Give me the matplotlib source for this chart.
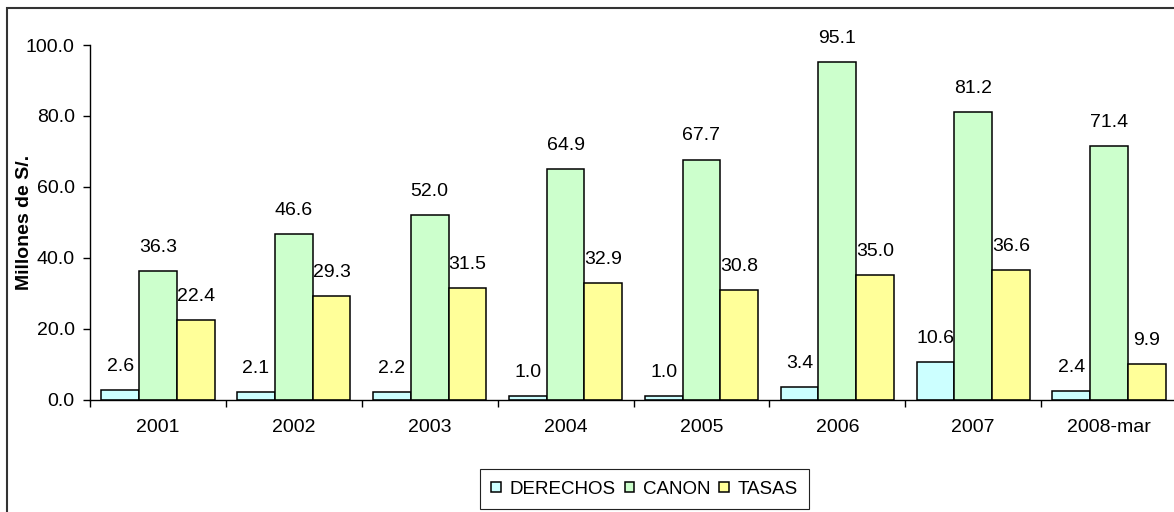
import numpy as np
import matplotlib
matplotlib.use("Agg")
import matplotlib.pyplot as plt
from matplotlib.patches import Rectangle
from matplotlib.ticker import FormatStrFormatter

# ───────────────────────────────
# Data (millones de S/.)
# ───────────────────────────────
years = ["2001", "2002", "2003", "2004", "2005", "2006", "2007", "2008-mar"]
derechos = [2.6, 2.1, 2.2, 1.0, 1.0, 3.4, 10.6, 2.4]
canon = [36.3, 46.6, 52.0, 64.9, 67.7, 95.1, 81.2, 71.4]
tasas = [22.4, 29.3, 31.5, 32.9, 30.8, 35.0, 36.6, 9.9]

series = [
    ("DERECHOS", derechos, "#CCFFFF"),
    ("CANON", canon, "#CCFFCC"),
    ("TASAS", tasas, "#FFFF99"),
]

plt.rcParams["font.family"] = ["Liberation Sans", "DejaVu Sans"]
plt.rcParams["font.size"] = 14

W, H = 1174, 512
fig = plt.figure(figsize=(W / 100, H / 100), dpi=100)

# plot area in pixel terms, converted to figure fractions
left, right, top, bottom = 90, 1177, 45, 399.5
ax = fig.add_axes([left / W, 1 - bottom / H, (right - left) / W, (bottom - top) / H])

x = np.arange(len(years))
width = 0.278
for i, (name, vals, color) in enumerate(series):
    pos = x + (i - 1) * width
    bars = ax.bar(pos, vals, width, color=color, edgecolor="black",
                  linewidth=1.1, label=name, zorder=2)
    for b, v in zip(bars, vals):
        ax.annotate(f"{v:.1f}", (b.get_x() + b.get_width() / 2, v),
                    xytext=(0, 17), textcoords="offset points",
                    ha="center", va="center", fontsize=14,
                    annotation_clip=False)

ax.set_xlim(-0.5, len(years) - 0.5)
ax.set_ylim(0, 100)
ax.set_yticks(np.arange(0, 101, 20))
ax.yaxis.set_major_formatter(FormatStrFormatter("%.1f"))
ax.set_ylabel("Millones de S/.", fontweight="bold", fontsize=14)
ax.yaxis.set_label_coords((33 - left) / (right - left), 0.5)

# category labels at centres, tick marks on the group boundaries
ax.set_xticks(x)
ax.set_xticklabels(years)
ax.set_xticks(np.arange(-0.5, len(years) + 0.5, 1), minor=True)
ax.tick_params(axis="x", which="major", length=0, pad=14)
ax.tick_params(axis="x", which="minor", length=5, width=1, direction="out")
ax.tick_params(axis="y", length=5, width=1, direction="out", pad=6)

for s in ["top", "right"]:
    ax.spines[s].set_visible(False)
for s in ["left", "bottom"]:
    ax.spines[s].set_linewidth(1)
    ax.spines[s].set_color("black")

leg = fig.legend(loc="center", bbox_to_anchor=(644.5 / W, 1 - 489 / H),
                 ncol=3, frameon=True, fancybox=False, framealpha=1,
                 handlelength=0.5, handleheight=0.5, handletextpad=0.45,
                 columnspacing=0.5, borderpad=0.6, borderaxespad=0,
                 fontsize=13.5)
leg.get_frame().set_edgecolor("#222222")
leg.get_frame().set_linewidth(0.8)

# outer chart frame
fig.patches.append(Rectangle((7 / W, -0.05), 1.1, 1 - 8 / H + 0.05,
                             transform=fig.transFigure, fill=False,
                             edgecolor="#333333", linewidth=1.5))

fig.savefig("out.png", dpi=100, facecolor="white")
